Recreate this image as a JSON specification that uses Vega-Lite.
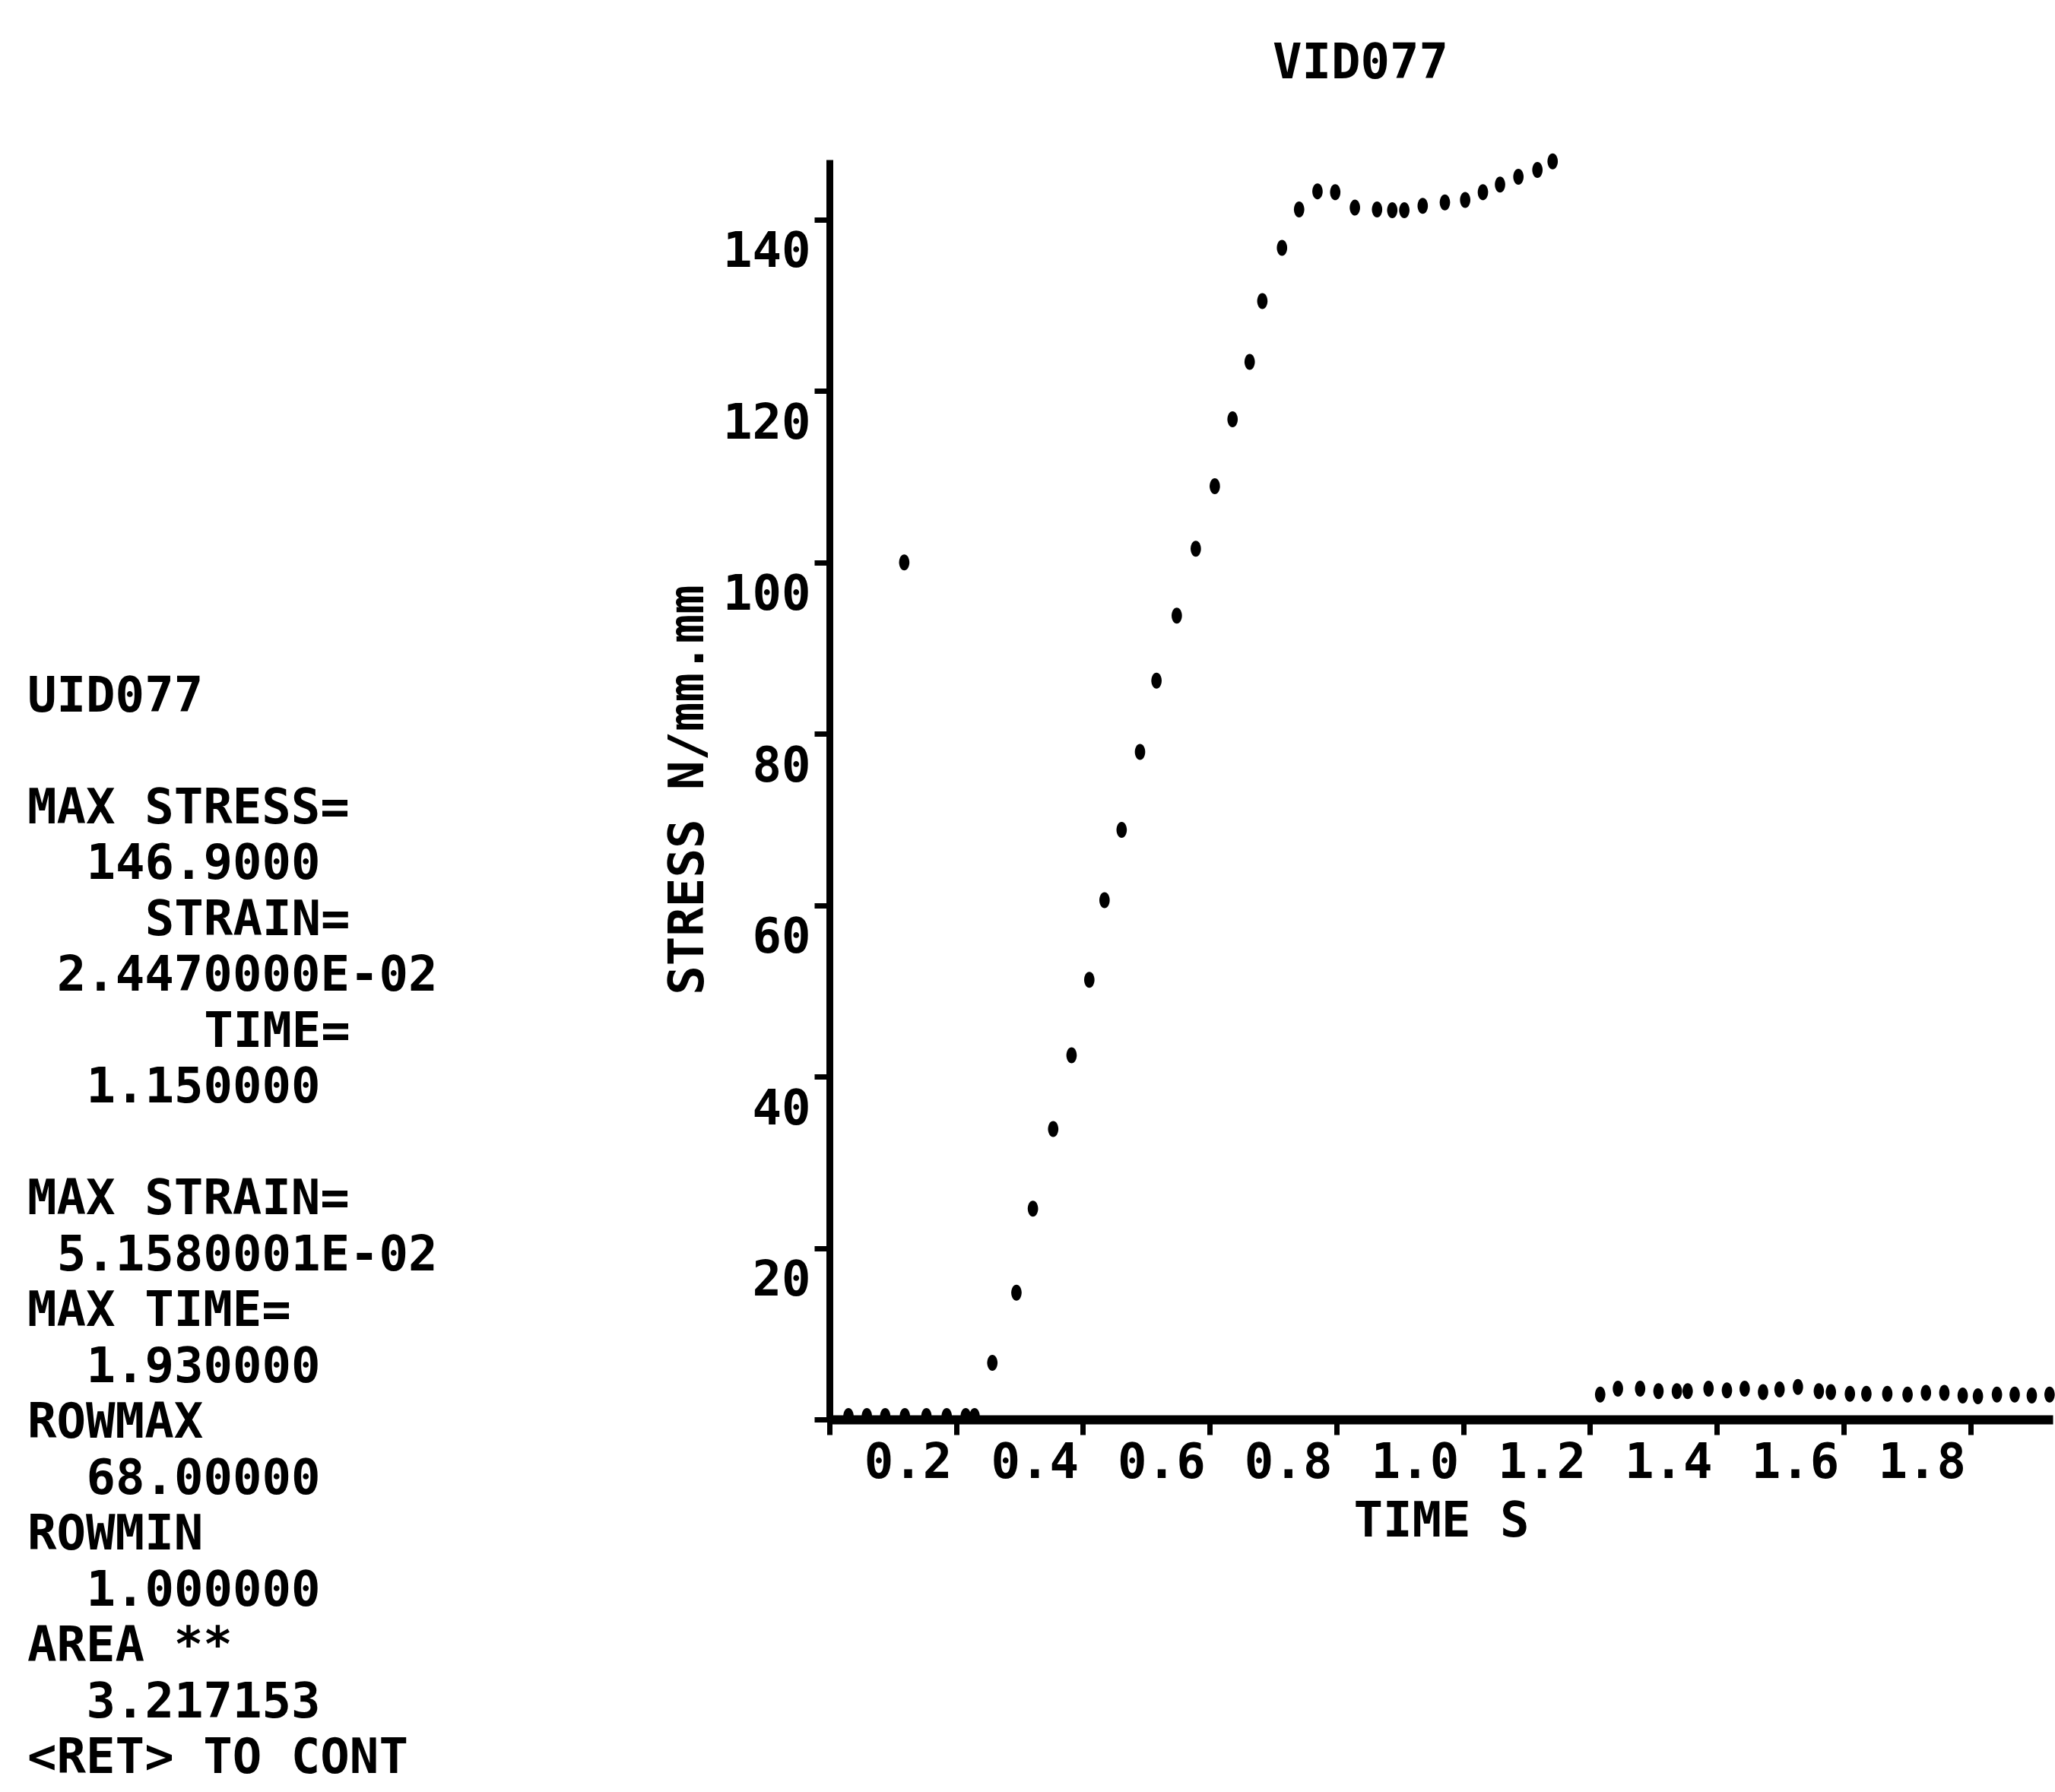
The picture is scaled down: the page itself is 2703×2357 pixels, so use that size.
{
  "$schema": "https://vega.github.io/schema/vega-lite/v6.json",
  "usermeta": {"embedOptions": {"actions": false}},
  "background": "white",
  "padding": {"left": 36, "top": 51, "right": 0, "bottom": 0},
  "config": {
    "view": {"stroke": null},
    "concat": {"spacing": 63},
    "font": "DejaVu Sans Mono"
  },
  "hconcat": [
    {
      "width": 774,
      "height": 2140,
      "data": {
        "values": [
          {"line": 0, "indent": 0, "text": "UID077"},
          {"line": 2, "indent": 0, "text": "MAX STRESS="},
          {"line": 3, "indent": 2, "text": "146.9000"},
          {"line": 4, "indent": 4, "text": "STRAIN="},
          {"line": 5, "indent": 1, "text": "2.4470000E-02"},
          {"line": 6, "indent": 6, "text": "TIME="},
          {"line": 7, "indent": 2, "text": "1.150000"},
          {"line": 9, "indent": 0, "text": "MAX STRAIN="},
          {"line": 10, "indent": 1, "text": "5.1580001E-02"},
          {"line": 11, "indent": 0, "text": "MAX TIME="},
          {"line": 12, "indent": 2, "text": "1.930000"},
          {"line": 13, "indent": 0, "text": "ROWMAX"},
          {"line": 14, "indent": 2, "text": "68.00000"},
          {"line": 15, "indent": 0, "text": "ROWMIN"},
          {"line": 16, "indent": 2, "text": "1.000000"},
          {"line": 17, "indent": 0, "text": "AREA **"},
          {"line": 18, "indent": 2, "text": "3.217153"},
          {"line": 19, "indent": 0, "text": "<RET> TO CONT"}
        ]
      },
      "mark": {"type": "text", "align": "left", "baseline": "middle", "fontSize": 64, "fontWeight": "bold", "font": "DejaVu Sans Mono", "color": "black"},
      "encoding": {
        "x": {"field": "indent", "type": "quantitative", "scale": {"domain": [0, 20], "nice": false}, "axis": null},
        "y": {"field": "line", "type": "quantitative", "scale": {"domain": [-9.619, 19.497], "reverse": true, "nice": false, "zero": false}, "axis": null},
        "text": {"field": "text"}
      }
    },
    {
      "width": 1609,
      "height": 1657,
      "title": {"text": "VID077", "anchor": "middle", "frame": "group", "dx": -106, "offset": 35, "baseline": "alphabetic", "fontSize": 64, "font": "DejaVu Sans Mono", "fontWeight": "bold", "color": "black"},
      "data": {
        "values": [
          {"time": 0.030, "stress": 0.4}, {"time": 0.059, "stress": 0.4}, {"time": 0.088, "stress": 0.4},
          {"time": 0.119, "stress": 0.4}, {"time": 0.153, "stress": 0.4}, {"time": 0.185, "stress": 0.4},
          {"time": 0.215, "stress": 0.4}, {"time": 0.229, "stress": 0.4},
          {"time": 0.118, "stress": 100.0},
          {"time": 0.257, "stress": 6.6}, {"time": 0.295, "stress": 14.8}, {"time": 0.321, "stress": 24.6},
          {"time": 0.353, "stress": 33.9}, {"time": 0.382, "stress": 42.5}, {"time": 0.410, "stress": 51.3},
          {"time": 0.434, "stress": 60.6}, {"time": 0.461, "stress": 68.8}, {"time": 0.490, "stress": 77.9},
          {"time": 0.516, "stress": 86.2}, {"time": 0.548, "stress": 93.8}, {"time": 0.578, "stress": 101.6},
          {"time": 0.608, "stress": 108.9}, {"time": 0.636, "stress": 116.7}, {"time": 0.663, "stress": 123.4},
          {"time": 0.683, "stress": 130.5}, {"time": 0.714, "stress": 136.7}, {"time": 0.741, "stress": 141.2},
          {"time": 0.770, "stress": 143.3}, {"time": 0.798, "stress": 143.2}, {"time": 0.829, "stress": 141.4},
          {"time": 0.864, "stress": 141.2}, {"time": 0.888, "stress": 141.1}, {"time": 0.907, "stress": 141.1},
          {"time": 0.936, "stress": 141.6}, {"time": 0.971, "stress": 142.0}, {"time": 1.003, "stress": 142.3},
          {"time": 1.031, "stress": 143.2}, {"time": 1.058, "stress": 144.1}, {"time": 1.087, "stress": 145.0},
          {"time": 1.117, "stress": 145.8}, {"time": 1.141, "stress": 146.8},
          {"time": 1.216, "stress": 2.9}, {"time": 1.244, "stress": 3.6}, {"time": 1.279, "stress": 3.6},
          {"time": 1.308, "stress": 3.3}, {"time": 1.337, "stress": 3.3}, {"time": 1.354, "stress": 3.3},
          {"time": 1.387, "stress": 3.6}, {"time": 1.416, "stress": 3.4}, {"time": 1.444, "stress": 3.6},
          {"time": 1.473, "stress": 3.2}, {"time": 1.499, "stress": 3.5}, {"time": 1.528, "stress": 3.8},
          {"time": 1.561, "stress": 3.3}, {"time": 1.580, "stress": 3.2}, {"time": 1.610, "stress": 3.0},
          {"time": 1.636, "stress": 3.0}, {"time": 1.669, "stress": 3.0}, {"time": 1.701, "stress": 2.9},
          {"time": 1.730, "stress": 3.1}, {"time": 1.759, "stress": 3.1}, {"time": 1.788, "stress": 2.8},
          {"time": 1.812, "stress": 2.7}, {"time": 1.842, "stress": 2.9}, {"time": 1.870, "stress": 2.9},
          {"time": 1.897, "stress": 2.8}, {"time": 1.925, "stress": 2.9}
        ]
      },
      "mark": {"type": "point", "shape": "M0,-1A0.65,1,0,1,1,0,1A0.65,1,0,1,1,0,-1Z", "filled": true, "size": 441, "color": "black", "opacity": 1},
      "encoding": {
        "x": {
          "field": "time", "type": "quantitative",
          "scale": {"domain": [0, 1.93], "nice": false, "zero": false},
          "axis": {
            "values": [0, 0.2, 0.4, 0.6, 0.8, 1.0, 1.2, 1.4, 1.6, 1.8],
            "format": ".1f",
            "labelExpr": "datum.value == 0 ? '' : datum.label",
            "title": "TIME S",
            "grid": false,
            "domainColor": "black", "domainWidth": 12,
            "tickColor": "black", "tickWidth": 7, "tickSize": 20,
            "labelFont": "DejaVu Sans Mono", "labelFontSize": 64, "labelFontWeight": "bold", "labelColor": "black",
            "labelAlign": "right", "labelBaseline": "top", "labelPadding": 5, "labelOffset": -6,
            "labelFlush": false, "labelOverlap": false,
            "titleFont": "DejaVu Sans Mono", "titleFontSize": 64, "titleFontWeight": "bold", "titleColor": "black",
            "titlePadding": 13
          }
        },
        "y": {
          "field": "stress", "type": "quantitative",
          "scale": {"domain": [0, 147], "nice": false, "zero": false},
          "axis": {
            "values": [0, 20, 40, 60, 80, 100, 120, 140],
            "labelExpr": "datum.value == 0 ? '' : datum.label",
            "title": "STRESS N/mm.mm",
            "grid": false,
            "domainColor": "black", "domainWidth": 9,
            "tickColor": "black", "tickWidth": 7, "tickSize": 20,
            "labelFont": "DejaVu Sans Mono", "labelFontSize": 64, "labelFontWeight": "bold", "labelColor": "black",
            "labelAlign": "right", "labelBaseline": "top", "labelPadding": 5, "labelOffset": 11,
            "labelFlush": false, "labelOverlap": false,
            "titleFont": "DejaVu Sans Mono", "titleFontSize": 64, "titleFontWeight": "bold", "titleColor": "black",
            "titlePadding": 13
          }
        }
      }
    }
  ]
}
